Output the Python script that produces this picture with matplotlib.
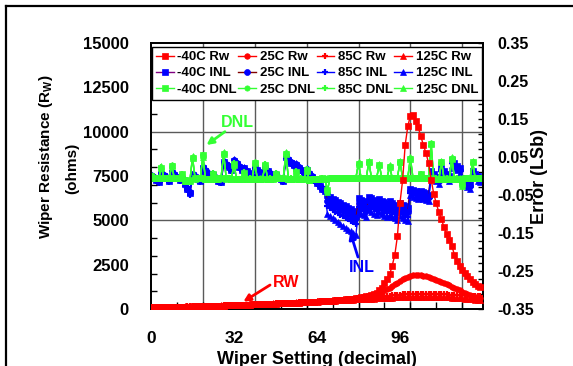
import numpy as np
import matplotlib
matplotlib.use('Agg')
import matplotlib.pyplot as plt
from matplotlib.lines import Line2D
from matplotlib.transforms import blended_transform_factory

plt.rcParams['font.family'] = ['Liberation Sans', 'DejaVu Sans']
plt.rcParams['font.weight'] = 'bold'
plt.rcParams['mathtext.fontset'] = 'custom'
plt.rcParams['mathtext.rm'] = 'Liberation Sans:bold'
plt.rcParams['mathtext.bf'] = 'Liberation Sans:bold'
plt.rcParams['axes.unicode_minus'] = False

# ---------------- data ----------------
CODES = list(range(128))

RW_M40 = [90, 93, 96, 99, 102, 105, 108, 111, 114, 117,
          120, 124, 128, 132, 136, 140, 144, 148, 152, 156,
          160, 164, 168, 172, 176, 180, 185, 190, 195, 200,
          205, 210, 215, 220, 225, 230, 236, 242, 248, 254,
          260, 266, 272, 278, 284, 290, 296, 302, 308, 314,
          320, 326, 332, 338, 344, 350, 357, 364, 371, 378,
          385, 392, 400, 408, 416, 425, 434, 443, 452, 462,
          472, 483, 495, 508, 522, 537, 553, 570, 590, 612,
          636, 662, 690, 722, 758, 800, 850, 910, 1050, 1200,
          1450, 1700, 1950, 2450, 3050, 4100, 6000, 7250, 9250, 10300,
          10900, 10950, 10600, 10250, 9750, 9250, 8800, 8250, 7300, 6500,
          5950, 5450, 5050, 4600, 4250, 3900, 3550, 3050, 2680, 2400,
          2200, 2030, 1850, 1680, 1550, 1400, 1300, 1220]

RW_25 = [85, 88, 91, 94, 97, 100, 103, 106, 109, 112,
         115, 119, 123, 127, 131, 135, 139, 143, 147, 151,
         155, 159, 163, 167, 171, 175, 180, 185, 190, 195,
         200, 205, 210, 215, 220, 225, 231, 237, 243, 249,
         255, 261, 267, 273, 279, 285, 291, 297, 303, 309,
         315, 321, 327, 333, 339, 345, 352, 359, 366, 373,
         380, 387, 395, 403, 411, 420, 429, 438, 447, 457,
         467, 478, 490, 502, 515, 530, 545, 562, 580, 600,
         622, 646, 672, 700, 735, 775, 820, 870, 925, 985,
         1050, 1120, 1200, 1290, 1390, 1490, 1590, 1680, 1760, 1830,
         1880, 1910, 1920, 1915, 1905, 1880, 1845, 1800, 1750, 1700,
         1650, 1600, 1540, 1470, 1400, 1330, 1260, 1190, 1120, 1050,
         980, 910, 850, 790, 740, 700, 660, 630]

RW_85 = [95, 98, 101, 104, 107, 110, 113, 116, 119, 122,
         125, 129, 133, 137, 141, 145, 149, 153, 157, 161,
         165, 169, 173, 177, 181, 185, 190, 195, 200, 205,
         210, 215, 220, 225, 230, 235, 241, 247, 253, 259,
         265, 271, 277, 283, 289, 295, 301, 307, 313, 319,
         325, 331, 337, 343, 349, 355, 362, 369, 376, 383,
         390, 397, 405, 413, 421, 430, 439, 448, 457, 466,
         475, 485, 495, 505, 515, 526, 537, 548, 560, 572,
         585, 598, 611, 624, 637, 650, 665, 680, 695, 710,
         725, 740, 755, 770, 785, 800, 812, 824, 835, 845,
         853, 860, 865, 868, 868, 866, 863, 859, 855, 850,
         845, 840, 834, 828, 822, 815, 808, 801, 794, 787,
         780, 772, 764, 756, 748, 740, 732, 725]

RW_125 = [100, 103, 106, 109, 112, 115, 118, 121, 124, 127,
          130, 134, 138, 142, 146, 150, 154, 158, 162, 166,
          170, 174, 178, 182, 186, 190, 195, 200, 205, 210,
          215, 220, 225, 230, 235, 240, 246, 252, 258, 264,
          270, 276, 282, 288, 294, 300, 306, 312, 318, 324,
          330, 336, 342, 348, 354, 360, 367, 374, 381, 388,
          395, 402, 409, 416, 423, 430, 437, 444, 451, 458,
          465, 472, 480, 488, 496, 504, 512, 520, 528, 536,
          544, 552, 560, 568, 576, 584, 592, 600, 608, 616,
          624, 632, 640, 647, 654, 660, 666, 671, 676, 680,
          684, 687, 690, 692, 693, 694, 694, 693, 691, 688,
          684, 679, 673, 666, 658, 649, 639, 628, 617, 605,
          593, 580, 566, 552, 538, 524, 510, 496]

INL_M40 = [0.000, -0.005, -0.010, -0.015, 0.005, 0.000, -0.006, -0.012,
           0.008, 0.002, -0.004, -0.010, -0.008, -0.022, -0.035, -0.046,
           0.002, -0.004, -0.009, -0.014, 0.022, 0.014, 0.006, -0.002,
           0.002, -0.006, -0.012, -0.016, 0.036, 0.030, 0.024, 0.017,
           0.040, 0.032, 0.024, 0.017, 0.020, 0.012, 0.005, -0.002,
           0.022, 0.015, 0.008, 0.001, 0.020, 0.012, 0.005, -0.002,
           0.002, -0.004, -0.009, -0.013, 0.050, 0.042, 0.035, 0.028,
           0.030, 0.022, 0.015, 0.008, 0.016, 0.006, -0.002, -0.011,
           -0.019, -0.027, -0.033, -0.040, -0.050, -0.055, -0.060, -0.064,
           -0.068, -0.072, -0.076, -0.080, -0.084, -0.088, -0.092, -0.096,
           -0.058, -0.063, -0.067, -0.071, -0.054, -0.059, -0.063, -0.067,
           -0.060, -0.065, -0.069, -0.073, -0.066, -0.071, -0.075, -0.079,
           -0.070, -0.075, -0.079, -0.083, -0.033, -0.036, -0.039, -0.042,
           -0.040, -0.043, -0.046, -0.049, 0.012, 0.005, -0.002, -0.009,
           0.020, 0.013, 0.006, -0.001, 0.042, 0.034, 0.027, 0.020,
           -0.004, -0.010, -0.016, -0.022, 0.012, 0.006, 0.000, -0.005]

INL_25 = [0.003, -0.002, -0.008, -0.013, 0.008, 0.002, -0.004, -0.010,
          0.010, 0.004, -0.002, -0.008, -0.006, -0.019, -0.032, -0.043,
          0.005, -0.001, -0.006, -0.011, 0.025, 0.017, 0.009, 0.001,
          0.004, -0.004, -0.010, -0.014, 0.038, 0.032, 0.026, 0.019,
          0.042, 0.034, 0.026, 0.019, 0.022, 0.014, 0.007, 0.000,
          0.024, 0.017, 0.010, 0.003, 0.022, 0.014, 0.007, 0.000,
          0.004, -0.002, -0.007, -0.011, 0.052, 0.044, 0.037, 0.030,
          0.032, 0.024, 0.017, 0.010, 0.018, 0.008, 0.000, -0.009,
          -0.017, -0.025, -0.031, -0.038, -0.065, -0.070, -0.075, -0.079,
          -0.083, -0.087, -0.091, -0.095, -0.099, -0.103, -0.107, -0.111,
          -0.070, -0.075, -0.079, -0.083, -0.066, -0.071, -0.075, -0.079,
          -0.072, -0.077, -0.081, -0.085, -0.078, -0.083, -0.087, -0.091,
          -0.082, -0.087, -0.091, -0.095, -0.039, -0.042, -0.045, -0.048,
          -0.046, -0.049, -0.052, -0.055, 0.008, 0.001, -0.006, -0.013,
          0.016, 0.009, 0.002, -0.005, 0.038, 0.030, 0.023, 0.016,
          -0.008, -0.014, -0.020, -0.026, 0.008, 0.002, -0.004, -0.009]

INL_85 = [-0.003, -0.008, -0.013, -0.018, 0.002, -0.003, -0.009, -0.015,
          0.005, -0.001, -0.007, -0.013, -0.011, -0.025, -0.038, -0.049,
          -0.001, -0.007, -0.012, -0.017, 0.019, 0.011, 0.003, -0.005,
          -0.001, -0.009, -0.015, -0.019, 0.033, 0.027, 0.021, 0.014,
          0.037, 0.029, 0.021, 0.014, 0.017, 0.009, 0.002, -0.005,
          0.019, 0.012, 0.005, -0.002, 0.017, 0.009, 0.002, -0.005,
          -0.001, -0.007, -0.012, -0.016, 0.047, 0.039, 0.032, 0.025,
          0.027, 0.019, 0.012, 0.005, 0.013, 0.003, -0.005, -0.014,
          -0.022, -0.030, -0.036, -0.043, -0.080, -0.085, -0.090, -0.094,
          -0.098, -0.102, -0.106, -0.110, -0.114, -0.118, -0.122, -0.126,
          -0.082, -0.087, -0.091, -0.095, -0.078, -0.083, -0.087, -0.091,
          -0.084, -0.089, -0.093, -0.097, -0.090, -0.095, -0.099, -0.103,
          -0.094, -0.099, -0.103, -0.107, -0.045, -0.048, -0.051, -0.054,
          -0.052, -0.055, -0.058, -0.061, 0.004, -0.003, -0.010, -0.017,
          0.012, 0.005, -0.002, -0.009, 0.034, 0.026, 0.019, 0.012,
          -0.012, -0.018, -0.024, -0.030, 0.004, -0.002, -0.008, -0.013]

INL_125 = [0.006, 0.001, -0.004, -0.009, 0.011, 0.006, 0.000, -0.006,
           0.013, 0.007, 0.001, -0.005, -0.003, -0.016, -0.029, -0.040,
           0.008, 0.002, -0.003, -0.008, 0.028, 0.020, 0.012, 0.004,
           0.007, -0.001, -0.007, -0.011, 0.041, 0.035, 0.029, 0.022,
           0.045, 0.037, 0.029, 0.022, 0.025, 0.017, 0.010, 0.003,
           0.027, 0.020, 0.013, 0.006, 0.025, 0.017, 0.010, 0.003,
           0.007, 0.001, -0.004, -0.008, 0.055, 0.047, 0.040, 0.033,
           0.035, 0.027, 0.020, 0.013, 0.021, 0.011, 0.003, -0.006,
           -0.014, -0.022, -0.028, -0.035, -0.100, -0.106, -0.111, -0.116,
           -0.121, -0.126, -0.131, -0.136, -0.141, -0.146, -0.150, -0.154,
           -0.094, -0.099, -0.103, -0.107, -0.090, -0.095, -0.099, -0.103,
           -0.096, -0.101, -0.105, -0.109, -0.102, -0.107, -0.111, -0.115,
           -0.106, -0.111, -0.115, -0.119, -0.051, -0.054, -0.057, -0.060,
           -0.058, -0.061, -0.064, -0.067, 0.000, -0.007, -0.014, -0.021,
           0.008, 0.001, -0.006, -0.013, 0.030, 0.022, 0.015, 0.008,
           -0.016, -0.022, -0.028, -0.034, 0.000, -0.006, -0.012, -0.017]

DNL_M40 = [0.000, -0.004, -0.005, -0.005, 0.022, -0.005, -0.006, -0.006,
           0.026, -0.006, -0.006, -0.006, 0.004, -0.012, -0.013, -0.011,
           0.048, -0.006, -0.005, -0.005, 0.054, -0.008, -0.008, -0.008,
           0.006, -0.008, -0.006, -0.004, 0.058, -0.006, -0.006, -0.007,
           0.032, -0.008, -0.008, -0.007, 0.008, -0.008, -0.007, -0.007,
           0.034, -0.007, -0.007, -0.007, 0.030, -0.008, -0.007, -0.007,
           0.006, -0.006, -0.005, -0.004, 0.058, -0.008, -0.007, -0.007,
           0.010, -0.008, -0.007, -0.007, 0.016, -0.010, -0.008, -0.009,
           -0.008, -0.008, -0.006, -0.007, -0.038, -0.005, -0.005, -0.004,
           -0.004, -0.004, -0.004, -0.004, -0.004, -0.004, -0.004, -0.004,
           0.032, -0.005, -0.004, -0.004, 0.036, -0.005, -0.004, -0.004,
           0.028, -0.005, -0.004, -0.004, 0.024, -0.005, -0.004, -0.004,
           0.036, -0.005, -0.004, -0.004, 0.046, -0.005, -0.004, -0.004,
           0.004, -0.004, -0.004, -0.004, 0.084, -0.007, -0.007, -0.007,
           0.036, -0.007, -0.007, -0.007, 0.045, -0.007, -0.007, -0.007,
           -0.022, -0.006, -0.006, -0.006, 0.036, -0.006, -0.006, -0.005]

DNL_25 = [0.002, -0.005, -0.004, -0.006, 0.020, -0.006, -0.005, -0.006,
          0.028, -0.005, -0.006, -0.005, 0.002, -0.011, -0.012, -0.012,
          0.050, -0.006, -0.006, -0.005, 0.052, -0.007, -0.008, -0.007,
          0.004, -0.007, -0.006, -0.005, 0.060, -0.006, -0.007, -0.006,
          0.030, -0.007, -0.008, -0.007, 0.006, -0.007, -0.008, -0.007,
          0.036, -0.007, -0.006, -0.007, 0.028, -0.007, -0.008, -0.007,
          0.004, -0.005, -0.006, -0.004, 0.060, -0.007, -0.008, -0.007,
          0.008, -0.007, -0.008, -0.007, 0.014, -0.009, -0.008, -0.008,
          -0.008, -0.007, -0.007, -0.006, -0.040, -0.005, -0.004, -0.005,
          -0.004, -0.005, -0.004, -0.004, -0.005, -0.004, -0.004, -0.005,
          0.034, -0.004, -0.005, -0.004, 0.034, -0.004, -0.005, -0.004,
          0.030, -0.004, -0.005, -0.004, 0.026, -0.004, -0.005, -0.004,
          0.034, -0.004, -0.005, -0.004, 0.048, -0.004, -0.005, -0.004,
          0.002, -0.005, -0.004, -0.005, 0.088, -0.006, -0.007, -0.006,
          0.038, -0.006, -0.007, -0.006, 0.047, -0.006, -0.007, -0.006,
          -0.024, -0.005, -0.006, -0.005, 0.038, -0.005, -0.006, -0.006]

DNL_85 = [-0.002, -0.004, -0.006, -0.004, 0.024, -0.004, -0.007, -0.005,
          0.024, -0.007, -0.005, -0.007, 0.006, -0.013, -0.011, -0.013,
          0.046, -0.005, -0.006, -0.006, 0.055, -0.009, -0.007, -0.009,
          0.008, -0.009, -0.005, -0.006, 0.056, -0.005, -0.006, -0.008,
          0.034, -0.009, -0.007, -0.008, 0.010, -0.009, -0.006, -0.008,
          0.032, -0.008, -0.008, -0.006, 0.032, -0.009, -0.006, -0.008,
          0.008, -0.007, -0.004, -0.005, 0.056, -0.009, -0.006, -0.008,
          0.012, -0.009, -0.006, -0.008, 0.018, -0.011, -0.007, -0.010,
          -0.009, -0.009, -0.005, -0.008, -0.036, -0.006, -0.005, -0.004,
          -0.005, -0.004, -0.005, -0.004, -0.004, -0.005, -0.004, -0.004,
          0.030, -0.006, -0.004, -0.005, 0.038, -0.006, -0.004, -0.005,
          0.026, -0.006, -0.004, -0.005, 0.022, -0.006, -0.004, -0.005,
          0.038, -0.006, -0.004, -0.005, 0.044, -0.006, -0.004, -0.005,
          0.006, -0.004, -0.005, -0.004, 0.080, -0.008, -0.006, -0.008,
          0.034, -0.008, -0.006, -0.008, 0.043, -0.008, -0.006, -0.008,
          -0.020, -0.007, -0.005, -0.007, 0.034, -0.007, -0.005, -0.004]

DNL_125 = [0.001, -0.003, -0.005, -0.005, 0.026, -0.005, -0.005, -0.006,
           0.030, -0.006, -0.006, -0.006, 0.005, -0.012, -0.013, -0.012,
           0.052, -0.007, -0.005, -0.006, 0.050, -0.008, -0.009, -0.008,
           0.005, -0.007, -0.007, -0.005, 0.062, -0.007, -0.006, -0.007,
           0.028, -0.008, -0.007, -0.008, 0.007, -0.007, -0.008, -0.006,
           0.038, -0.008, -0.007, -0.006, 0.026, -0.008, -0.007, -0.006,
           0.005, -0.006, -0.005, -0.005, 0.062, -0.007, -0.007, -0.006,
           0.009, -0.008, -0.007, -0.006, 0.012, -0.010, -0.009, -0.008,
           -0.007, -0.008, -0.006, -0.007, -0.042, -0.004, -0.005, -0.005,
           -0.004, -0.004, -0.005, -0.005, -0.004, -0.004, -0.005, -0.004,
           0.036, -0.005, -0.005, -0.004, 0.040, -0.005, -0.005, -0.004,
           0.032, -0.005, -0.005, -0.004, 0.028, -0.005, -0.005, -0.004,
           0.040, -0.005, -0.005, -0.004, 0.050, -0.005, -0.005, -0.004,
           0.003, -0.005, -0.005, -0.004, 0.086, -0.007, -0.006, -0.007,
           0.040, -0.007, -0.006, -0.007, 0.049, -0.007, -0.006, -0.007,
           -0.026, -0.006, -0.005, -0.006, 0.040, -0.006, -0.005, -0.006]

TEMPS = ['-40C', '25C', '85C', '125C']
X_TICKS = [0, 32, 64, 96]
RW_TICKS = [0, 2500, 5000, 7500, 10000, 12500, 15000]
ERR_TICKS = [-0.35, -0.25, -0.15, -0.05, 0.05, 0.15, 0.25, 0.35]
ERR_TICK_LABELS = ['-0.35', '-0.25', '-0.15', '-0.05', '0.05', '0.15', '0.25', '0.35']

# ---------------- figure ----------------
W, H = 573, 366
fig = plt.figure(figsize=(W / 100, H / 100), dpi=100)
L, R, B, T = 151, 483, 309, 43
ax_err = fig.add_axes([L / W, 1 - B / H, (R - L) / W, (B - T) / H])
ax_rw = ax_err.twinx()

RED = '#FF0000'
BLUE = '#0000FF'
GREEN = '#33FF33'

# grid (behind everything)
gcol = '#5a5a5a'
for gx in range(20, 121, 20):
    ax_err.axvline(gx, color=gcol, lw=1.0, zorder=0)
htrans = blended_transform_factory(ax_err.transAxes, ax_rw.transData)
for gy in [5000, 10000]:
    ax_err.plot([0, 1], [gy, gy], transform=htrans, color=gcol, lw=1.0, zorder=0)

markers = ['s', 'o', '+', '^']
inl_line_colors = ['#800080', '#800000', BLUE, BLUE]

inl_sets = [INL_M40, INL_25, INL_85, INL_125]
dnl_sets = [DNL_M40, DNL_25, DNL_85, DNL_125]
rw_sets = [RW_M40, RW_25, RW_85, RW_125]

inl_h, dnl_h, rw_h = [], [], []
for i in range(4):
    mk = markers[i]
    mew = 1.6 if mk == '+' else 0.5
    h, = ax_err.plot(CODES, inl_sets[i], color=inl_line_colors[i], lw=1.0,
                     marker=mk, ms=4.3, mfc=BLUE, mec=BLUE, mew=mew, zorder=2)
    inl_h.append(h)
for i in range(4):
    mk = markers[i]
    mew = 1.6 if mk == '+' else 0.5
    h, = ax_err.plot(CODES, dnl_sets[i], color=GREEN, lw=1.0,
                     marker=mk, ms=3.8, mfc=GREEN, mec=GREEN, mew=mew, zorder=3)
    dnl_h.append(h)
for i in range(4):
    mk = markers[i]
    mew = 1.6 if mk == '+' else 0.5
    h, = ax_rw.plot(CODES, rw_sets[i], color=RED, lw=1.0,
                    marker=mk, ms=4.0, mfc=RED, mec=RED, mew=mew, zorder=3)
    rw_h.append(h)

# axes limits / ticks
ax_err.set_xlim(0, 128)
ax_err.set_ylim(-0.35, 0.35)
ax_rw.set_ylim(0, 15000)

ax_err.set_xticks(X_TICKS)
ax_err.set_xticklabels([str(v) for v in X_TICKS])
ax_err.set_xticks(list(range(0, 121, 10)), minor=True)
ax_err.tick_params(axis='x', which='major', length=0, pad=16, labelsize=12.5)
ax_err.tick_params(axis='x', which='minor', length=5, width=1, direction='in')

ax_err.yaxis.tick_right()
ax_err.yaxis.set_label_position('right')
ax_err.set_yticks(ERR_TICKS)
ax_err.set_yticklabels(ERR_TICK_LABELS)
ax_err.set_yticks([round(-0.35 + 0.02 * k, 2) for k in range(36)], minor=True)
ax_err.tick_params(axis='y', which='both', direction='in', length=3.5, width=1,
                   left=False, right=True, labelleft=False, labelright=True,
                   pad=10, labelsize=11.5)

ax_rw.yaxis.tick_left()
ax_rw.yaxis.set_label_position('left')
ax_rw.set_yticks(RW_TICKS)
ax_rw.set_yticklabels([str(v) for v in RW_TICKS])
ax_rw.set_yticks(list(range(0, 15001, 1000)), minor=True)
ax_rw.tick_params(axis='y', which='major', length=0, pad=16, labelsize=12,
                  left=True, right=False, labelleft=True, labelright=False)
ax_rw.tick_params(axis='y', which='minor', length=4, width=1, direction='in',
                  left=True, right=False)

for a in (ax_err, ax_rw):
    for s in a.spines.values():
        s.set_linewidth(1.3)
        s.set_color('black')

# axis titles
fig.text(46 / W, 1 - 157 / H, 'Wiper Resistance (R$_\\mathbf{W}$)', rotation=90,
         ha='center', va='center', fontsize=11, fontweight='bold')
fig.text(72 / W, 1 - 168 / H, '(ohms)', rotation=90,
         ha='center', va='center', fontsize=11, fontweight='bold')
fig.text(540 / W, 1 - 176 / H, 'Error (LSb)', rotation=90,
         ha='center', va='center', fontsize=13, fontweight='bold')
fig.text(317 / W, 1 - 351 / H, 'Wiper Setting (decimal)',
         ha='center', va='top', fontsize=13, fontweight='bold')

# annotations
ax_rw.text(33.3, 10520, 'DNL', color=GREEN, fontsize=11.5, fontweight='bold',
           ha='center', va='center', zorder=6)
ax_rw.annotate('', xy=(21.4, 9250), xytext=(28.5, 10000),
               arrowprops=dict(arrowstyle='-|>', color=GREEN, lw=2,
                               mutation_scale=10, shrinkA=0, shrinkB=0), zorder=6)
ax_rw.text(81.3, 2340, 'INL', color=BLUE, fontsize=11.5, fontweight='bold',
           ha='center', va='center', zorder=6)
ax_rw.annotate('', xy=(76.8, 4340), xytext=(79.8, 2930),
               arrowprops=dict(arrowstyle='-|>', color=BLUE, lw=2,
                               mutation_scale=10, shrinkA=0, shrinkB=0), zorder=6)
ax_rw.text(52, 1494, 'RW', color=RED, fontsize=11.5, fontweight='bold',
           ha='center', va='center', zorder=6)
ax_rw.annotate('', xy=(35.6, 412), xytext=(45.9, 1353),
               arrowprops=dict(arrowstyle='-|>', color=RED, lw=2,
                               mutation_scale=10, shrinkA=0, shrinkB=0), zorder=6)

# legend
handles, labels = [], []
for i, t in enumerate(TEMPS):
    handles += [rw_h[i], inl_h[i], dnl_h[i]]
    labels += [t + ' Rw', t + ' INL', t + ' DNL']
leg = ax_rw.legend(handles, labels, ncol=4, loc='upper left',
                   bbox_to_anchor=(0.003, 0.985, 0.994, 0), mode='expand',
                   borderaxespad=0, handlelength=1.35,
                   handletextpad=0.25, labelspacing=0.3, borderpad=0.3,
                   fancybox=False, edgecolor='black', framealpha=1,
                   prop={'weight': 'bold', 'size': 9.5})
leg.get_frame().set_linewidth(1.0)
leg.set_zorder(10)

# outer border (partial frame)
fig.add_artist(Line2D([6 / W, 1], [1 - 6 / H, 1 - 6 / H], transform=fig.transFigure,
                      color='black', lw=1.6))
fig.add_artist(Line2D([6 / W, 6 / W], [0, 1 - 6 / H], transform=fig.transFigure,
                      color='black', lw=1.6))

fig.savefig('out.png', dpi=100)
